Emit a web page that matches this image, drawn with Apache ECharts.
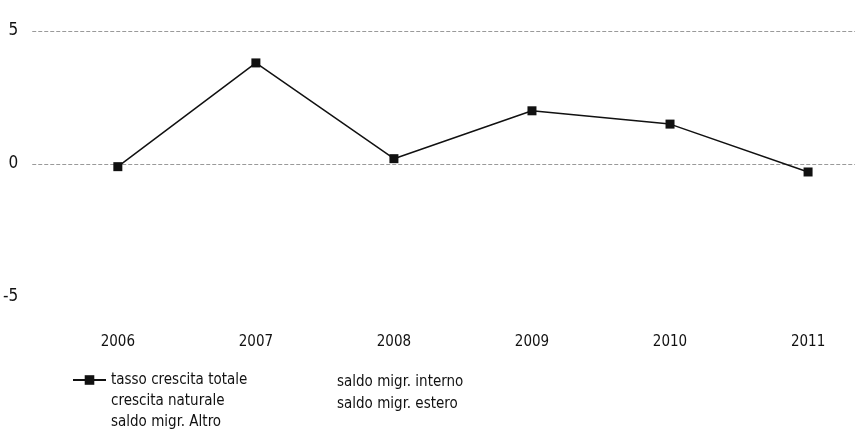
<!DOCTYPE html>
<html>
<head>
<meta charset="utf-8">
<script src="https://cdn.jsdelivr.net/npm/echarts@6/dist/echarts.min.js"></script>
<style>
  html, body { margin: 0; padding: 0; background: #fff; }
  #chart { width: 862px; height: 434px; }
</style>
</head>
<body>
<div id="chart"></div>
<script>
// values
const years = [2006, 2007, 2008, 2009, 2010, 2011];
const tassoCrescitaTotale = [-0.1, 3.8, 0.2, 2.0, 1.5, -0.3];
const seriesNames = [
  'tasso crescita totale',
  'crescita naturale',
  'saldo migr. Altro',
  'saldo migr. interno',
  'saldo migr. estero'
];
const yTicks = [-5, 0, 5];

const font = "'Liberation Sans Narrow', 'DejaVu Sans Condensed', sans-serif";

const chart = echarts.init(document.getElementById('chart'));

const series = seriesNames.map((name, i) => ({
  name: name,
  type: 'line',
  data: i === 0 ? years.map((y, k) => [y, tassoCrescitaTotale[k]]) : [],
  symbol: 'rect',
  symbolSize: 9,
  lineStyle: { color: '#111', width: 1.5 },
  itemStyle: { color: '#111' },
  animation: false,
  silent: true
}));

const legendText = { color: '#111', fontFamily: font, fontSize: 15, lineHeight: 16 };

chart.setOption({
  backgroundColor: '#fff',
  grid: { left: 30, right: 7, top: 31, bottom: 137 },
  xAxis: {
    type: 'value',
    min: 2005.38,
    max: 2011.34,
    axisLine: { show: false },
    axisTick: { show: false },
    splitLine: { show: false },
    axisLabel: {
      margin: 38,
      color: '#111',
      fontFamily: font,
      fontSize: 15,
      showMinLabel: false,
      showMaxLabel: false,
      formatter: v => (years.indexOf(Math.round(v)) >= 0 && Math.abs(v - Math.round(v)) < 1e-6) ? String(Math.round(v)) : ''
    }
  },
  yAxis: {
    type: 'value',
    min: yTicks[0],
    max: yTicks[yTicks.length - 1],
    interval: 5,
    axisLine: { show: false },
    axisTick: { show: false },
    axisLabel: { color: '#111', fontFamily: font, fontSize: 17, margin: 14 },
    splitLine: {
      show: true,
      lineStyle: { color: ['rgba(0,0,0,0)', '#9a9a9a', '#9a9a9a'], type: [4, 2], width: 1 }
    }
  },
  legend: [
    {
      left: 72, top: 372, orient: 'vertical', padding: 0,
      itemWidth: 33, itemHeight: 12, itemGap: 5,
      textStyle: legendText,
      selectedMode: false,
      data: [
        { name: seriesNames[0] },
        { name: seriesNames[1], icon: 'none' },
        { name: seriesNames[2], icon: 'none' }
      ]
    },
    {
      left: 299, top: 374, orient: 'vertical', padding: 0,
      itemWidth: 33, itemHeight: 12, itemGap: 6,
      textStyle: legendText,
      selectedMode: false,
      data: [
        { name: seriesNames[3], icon: 'none' },
        { name: seriesNames[4], icon: 'none' }
      ]
    }
  ],
  series: series
});
</script>
</body>
</html>
